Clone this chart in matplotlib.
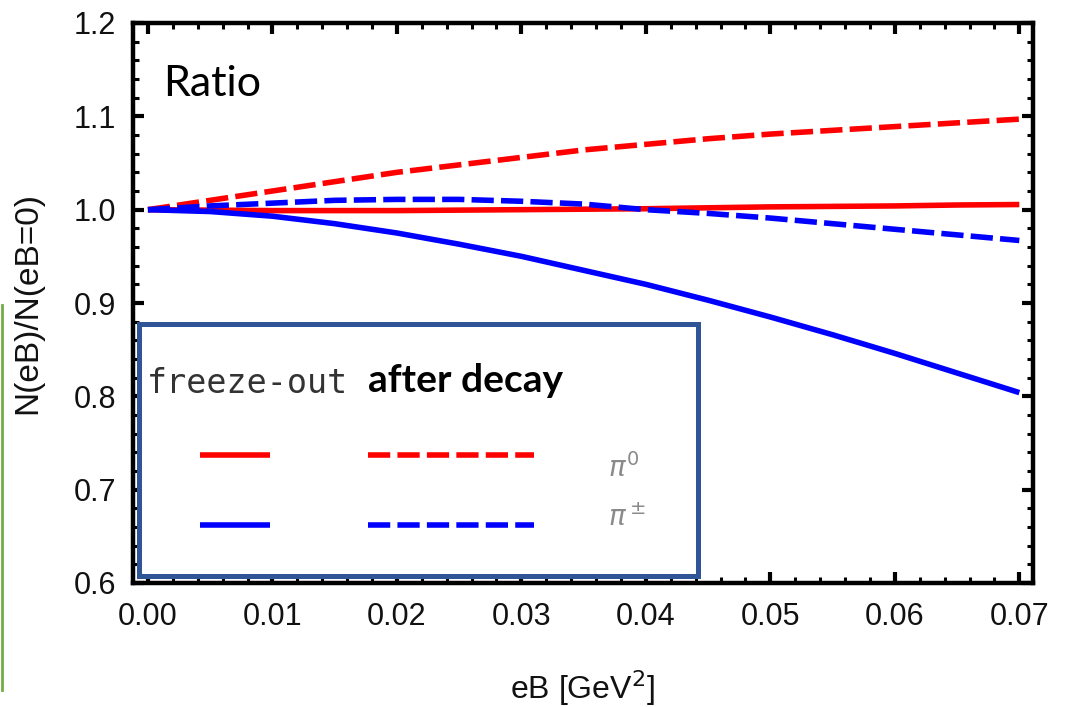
import matplotlib
matplotlib.use("Agg")
import matplotlib.pyplot as plt
from matplotlib.lines import Line2D
from matplotlib.patches import Rectangle
from matplotlib.ticker import MultipleLocator, FormatStrFormatter

# ---- data ----
eB = [0.0, 0.005, 0.01, 0.015, 0.02, 0.025, 0.03, 0.035,
      0.04, 0.045, 0.05, 0.055, 0.06, 0.065, 0.07]
pi0_freeze = [1.0, 0.9995, 0.999, 0.999, 0.999, 0.9995, 1.000, 1.0005,
              1.001, 1.002, 1.003, 1.0035, 1.004, 1.005, 1.0055]
pi0_decay = [1.0, 1.010, 1.020, 1.030, 1.040, 1.048, 1.056, 1.064,
             1.070, 1.076, 1.081, 1.085, 1.089, 1.093, 1.097]
pipm_freeze = [1.0, 0.998, 0.993, 0.985, 0.975, 0.963, 0.950, 0.935,
               0.920, 0.903, 0.885, 0.866, 0.846, 0.825, 0.804]
pipm_decay = [1.0, 1.004, 1.007, 1.010, 1.011, 1.011, 1.009, 1.006,
              1.000, 0.996, 0.991, 0.985, 0.979, 0.973, 0.967]

x_ticks = [0.00, 0.01, 0.02, 0.03, 0.04, 0.05, 0.06, 0.07]
y_ticks = [0.6, 0.7, 0.8, 0.9, 1.0, 1.1, 1.2]

W, H = 1067, 707
fig = plt.figure(figsize=(W / 100, H / 100), dpi=100)
fig.patch.set_facecolor("white")

def fx(px):
    return px / W

def fy(py):
    return 1 - py / H

ax = fig.add_axes([fx(133), fy(583), fx(1033) - fx(133), fy(23) - fy(583)])

RED = "#ff0000"
BLUE = "#0000ff"
LW = 4.0
dash = (0, (4.0, 1.3))

ax.plot(eB, pi0_freeze, color=RED, lw=LW, solid_capstyle="butt")
ax.plot(eB, pi0_decay, color=RED, lw=LW, linestyle=dash)
ax.plot(eB, pipm_freeze, color=BLUE, lw=LW, solid_capstyle="butt")
ax.plot(eB, pipm_decay, color=BLUE, lw=LW, linestyle=dash)

ax.set_xlim(-0.0012, 0.0711)
ax.set_ylim(0.6, 1.2)
ax.set_xticks(x_ticks)
ax.set_yticks(y_ticks)
ax.xaxis.set_major_formatter(FormatStrFormatter("%.2f"))
ax.yaxis.set_major_formatter(FormatStrFormatter("%.1f"))
ax.xaxis.set_minor_locator(MultipleLocator(0.002))
ax.yaxis.set_minor_locator(MultipleLocator(0.02))

for lab in ax.get_xticklabels() + ax.get_yticklabels():
    lab.set_fontfamily("Liberation Sans")
    lab.set_fontsize(22)
    lab.set_color("#111111")

ax.tick_params(which="both", direction="in", top=True, right=True,
               color="black")
ax.tick_params(which="major", length=8, width=3)
ax.tick_params(which="minor", length=4.5, width=2.2)
ax.tick_params(axis="x", which="major", pad=14)
ax.tick_params(axis="y", which="major", pad=12)
for s in ax.spines.values():
    s.set_linewidth(3.2)
    s.set_color("black")

ax.set_xlabel("eB [GeV$^2$]", fontsize=23, family="Liberation Sans",
              labelpad=26, color="#111111")
ax.set_ylabel("N(eB)/N(eB=0)", fontsize=24, family="Liberation Sans",
              labelpad=22, color="#111111")

ax.text(fx(163), fy(84), "Ratio", transform=fig.transFigure,
        fontsize=31, family="Lato", va="center", ha="left", color="black")

# ---- legend box (as in the reference, a framed inset) ----
box = Rectangle((fx(139), fy(576)), fx(698) - fx(139), fy(324) - fy(576),
                transform=fig.transFigure, facecolor="white",
                edgecolor="#2f5597", linewidth=3.6, zorder=10)
fig.add_artist(box)

fig.text(fx(147), fy(383), "freeze-out", fontsize=24,
         family="DejaVu Sans Mono", color="#333333", va="center",
         ha="left", zorder=11)
fig.text(fx(368), fy(381), "after decay", fontsize=28, family="Lato",
         weight="bold", color="black", va="center", ha="left", zorder=11)

legend_rows = [(455, RED, r"$\pi^0$", 468), (525, BLUE, r"$\pi^\pm$", 518)]
for yy, col, lab, ly in legend_rows:
    fig.add_artist(Line2D([fx(200), fx(270)], [fy(yy), fy(yy)], color=col,
                          lw=LW, solid_capstyle="butt", zorder=11,
                          transform=fig.transFigure))
    fig.add_artist(Line2D([fx(368), fx(534)], [fy(yy), fy(yy)], color=col,
                          lw=LW, linestyle=dash, zorder=11,
                          transform=fig.transFigure))
    fig.text(fx(608), fy(ly), lab, fontsize=20, color="#8a8a8a",
             va="center", ha="left", zorder=11)

# slide-edge green line on the far left
fig.add_artist(Line2D([fx(2), fx(2)], [fy(305), fy(690)], color="#70ad47",
                      lw=2, transform=fig.transFigure))

fig.savefig("out.png", dpi=100, facecolor="white")
